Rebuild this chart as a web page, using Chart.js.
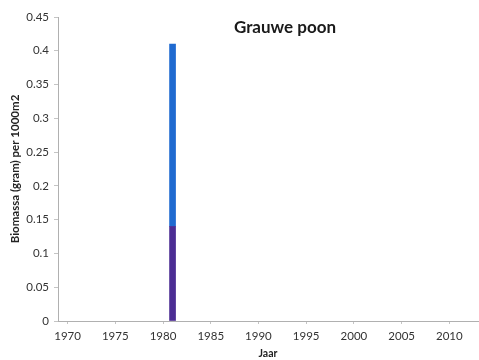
<!DOCTYPE html>
<html>
<head>
<meta charset="utf-8">
<script src="https://cdn.jsdelivr.net/npm/chart.js@4/dist/chart.umd.min.js"></script>
<style>
 html, body { margin: 0; padding: 0; background: #fff; }
 #wrap { width: 479px; height: 360px; }
</style>
</head>
<body>
<div id="wrap"><canvas id="myChart" width="479" height="360"></canvas></div>
<script>
'use strict';

var chartTitle = "Grauwe poon";
var yTitle = "Biomassa (gram) per 1000m2";
var xTitle = "Jaar";
var years = [1981];
var bottomValues = [0.14];   // purple part
var topValues = [0.27];      // blue part (total 0.41)
var xTicks = [1970, 1975, 1980, 1985, 1990, 1995, 2000, 2005, 2010];
var yTicks = [0, 0.05, 0.1, 0.15, 0.2, 0.25, 0.3, 0.35, 0.4, 0.45];

var font = "Lato, 'Liberation Sans', 'DejaVu Sans', sans-serif";
var ctx = document.getElementById("myChart");

function toPoints(vals) {
 return years.map(function (y, i) { return { x: y, y: vals[i] }; });
}

var titlePlugin = {
 id: "insideTitle",
 afterDraw: function (chart) {
  var c = chart.ctx;
  c.save();
  c.fillStyle = "#1a1a1a";
  c.font = "bold 17px " + font;
  c.textAlign = "center";
  c.textBaseline = "middle";
  c.fillText(chartTitle, 285, 28);
  c.restore();
 }
};

var myChart = new Chart(ctx, {
 type: "bar",
 data: {
  datasets: [
   { label: "a", data: toPoints(bottomValues), backgroundColor: "#4b2c93", barThickness: 6 },
   { label: "b", data: toPoints(topValues), backgroundColor: "#1f6ad0", barThickness: 6 }
  ]
 },
 options: {
  responsive: false,
  animation: false,
  layout: { padding: { top: 17, right: 1, left: 0, bottom: 0 } },
  plugins: { legend: { display: false }, tooltip: { enabled: false } },
  scales: {
   x: {
    type: "linear",
    stacked: true,
    offset: false,
    min: 1969,
    max: 2013,
    afterBuildTicks: function (scale) {
     scale.ticks = xTicks.map(function (v) { return { value: v }; });
    },
    grid: { display: true, offset: false, drawOnChartArea: false, drawTicks: true, tickLength: 3, color: "#c4c4c4" },
    border: { color: "#b0b0b0" },
    ticks: {
     color: "#333",
     font: { family: font, size: 11.5 },
     padding: 5,
     maxRotation: 0,
     callback: function (v) { return String(v); }
    },
    title: { display: true, text: xTitle, color: "#222", font: { family: font, size: 10.5, weight: "bold" }, padding: 0 },
    afterFit: function (scale) { scale.height = 39; }
   },
   y: {
    stacked: true,
    min: 0,
    max: 0.45,
    afterBuildTicks: function (scale) {
     scale.ticks = yTicks.map(function (v) { return { value: v }; });
    },
    grid: { display: true, drawOnChartArea: false, drawTicks: true, tickLength: 4, color: "#c4c4c4" },
    border: { color: "#b0b0b0" },
    ticks: {
     color: "#333",
     font: { family: font, size: 11.5 },
     padding: 5,
     callback: function (v) { return String(+v.toFixed(2)); }
    },
    title: { display: true, text: yTitle, color: "#222", font: { family: font, size: 11.5, weight: "bold" }, padding: { top: 8, bottom: 0 } },
    afterFit: function (scale) { scale.width = 58; }
   }
  }
 },
 plugins: [titlePlugin]
});
</script>
</body>
</html>
